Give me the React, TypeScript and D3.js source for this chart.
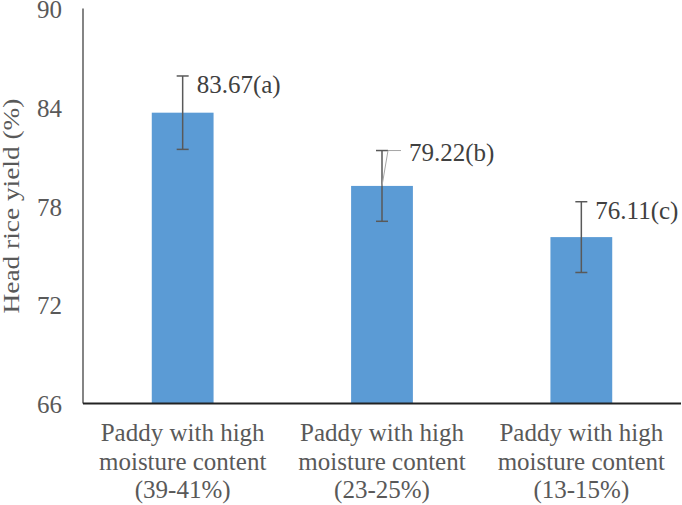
import React from "react";
import * as d3 from "d3";

const categories = ["(39-41%)", "(23-25%)", "(13-15%)"];
const categoryLines = ["Paddy with high", "moisture content"];
const values = [83.67, 79.22, 76.11];
const errors = [2.23, 2.15, 2.15];
const letters = ["a", "b", "c"];
const yTicks = [66, 72, 78, 84, 90];

const W = 682;
const H = 505;
const left = 83;
const right = 681;
const top = 8.5;
const bottom = 403.5;

const font = "'Liberation Serif', 'Times New Roman', serif";
const textColor = "#595959";

export default function App() {
  const x = d3
    .scaleBand<number>()
    .domain(values.map((_, i) => i))
    .range([left, right])
    .paddingInner(0.69)
    .paddingOuter(0.345);
  const y = d3.scaleLinear().domain([66, 90]).range([bottom, top]);
  const bw = x.bandwidth();

  return (
    <svg
      width={W}
      height={H}
      style={{ position: "absolute", left: 0, top: 0, background: "#fff" }}
      fontFamily={font}
    >
      {/* bars */}
      {values.map((v, i) => (
        <rect
          key={"b" + i}
          x={x(i)!}
          y={y(v)}
          width={bw}
          height={y(66) - y(v)}
          fill="#5B9BD5"
        />
      ))}
      {/* error bars */}
      {values.map((v, i) => {
        const cx = x(i)! + bw / 2;
        const y1 = y(v + errors[i]);
        const y2 = y(v - errors[i]);
        return (
          <g key={"e" + i} stroke="#595959" strokeWidth={1.5}>
            <line x1={cx} x2={cx} y1={y1} y2={y2} />
            <line x1={cx - 6} x2={cx + 6} y1={y1} y2={y1} />
            <line x1={cx - 6} x2={cx + 6} y1={y2} y2={y2} />
          </g>
        );
      })}
      {/* leader line for second label */}
      {(() => {
        const cx = x(1)! + bw / 2;
        const yt = y(values[1]);
        const yl = y(values[1] + errors[1]);
        return (
          <polyline
            points={`${cx},${yt} ${cx + 6},${yl} ${cx + 19},${yl}`}
            fill="none"
            stroke="#A6A6A6"
            strokeWidth={1}
          />
        );
      })()}
      {/* data labels */}
      {values.map((v, i) => {
        const cx = x(i)! + bw / 2;
        const dx = i === 1 ? 27 : 14;
        const yl = y(v + errors[i]) + (i === 1 ? 10 : 17);
        return (
          <text
            key={"l" + i}
            x={cx + dx}
            y={yl}
            fontSize={25}
            fill="#404040"
          >
            {v.toFixed(2) + "(" + letters[i] + ")"}
          </text>
        );
      })}
      {/* axes */}
      <line x1={left} x2={left} y1={top} y2={bottom} stroke="#333" strokeWidth={1.2} />
      <line x1={left} x2={right} y1={bottom} y2={bottom} stroke="#222" strokeWidth={2} />
      {/* y ticks */}
      {yTicks.map((t) => (
        <text
          key={"t" + t}
          x={62}
          y={y(t) + 9.5}
          fontSize={25}
          textAnchor="end"
          fill={textColor}
        >
          {t}
        </text>
      ))}
      {/* category labels */}
      {categories.map((c, i) => {
        const cx = x(i)! + bw / 2;
        return (
          <text key={"c" + i} textAnchor="middle" fontSize={25} fill={textColor}>
            <tspan x={cx} y={441}>{categoryLines[0]}</tspan>
            <tspan x={cx} y={469.5}>{categoryLines[1]}</tspan>
            <tspan x={cx} y={498}>{c}</tspan>
          </text>
        );
      })}
      {/* y title */}
      <text
        transform={`translate(19,206) rotate(-90) scale(1.14,1)`}
        textAnchor="middle"
        fontSize={24}
        fill={textColor}
      >
        Head rice yield (%)
      </text>
    </svg>
  );
}
